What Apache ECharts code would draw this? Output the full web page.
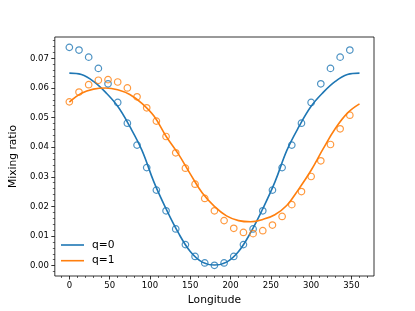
<!DOCTYPE html>
<html>
<head>
<meta charset="utf-8">
<script src="https://cdn.jsdelivr.net/npm/echarts@6/dist/echarts.min.js"></script>
<style>
html,body{margin:0;padding:0;background:#fff;}
#chart{width:415px;height:311px;}
</style>
</head>
<body>
<div id="chart"></div>
<script>
// Observed points (longitude, mixing ratio)
const lonPts = [0,12,24,36,48,60,72,84,96,108,120,132,144,156,168,180,192,204,216,228,240,252,264,276,288,300,312,324,336,348];
const ptsQ0 = [0.0737,0.0728,0.0704,0.0666,0.0614,0.0551,0.0481,0.0407,0.0331,0.0255,0.0185,0.0124,0.0071,0.0031,0.0009,0.0001,0.0009,0.0031,0.0071,0.0124,0.0185,0.0255,0.0331,0.0407,0.0481,0.0551,0.0614,0.0666,0.0704,0.0728];
const ptsQ1 = [0.0553,0.0586,0.0611,0.0626,0.0628,0.0620,0.0600,0.0570,0.0533,0.0488,0.0436,0.0381,0.0329,0.0275,0.0227,0.0185,0.0152,0.0126,0.0112,0.0108,0.0118,0.0137,0.0166,0.0206,0.0250,0.0301,0.0354,0.0409,0.0462,0.0508];
// Model curves
const lonLine = [0,15,30,45,60,75,90,105,120,135,150,165,180,195,210,225,240,255,270,285,300,315,330,345,360];
const lineQ0 = [0.0650,0.0645,0.0622,0.0585,0.0538,0.0470,0.0390,0.0282,0.0192,0.0112,0.0048,0.0012,0.0002,0.0012,0.0048,0.0112,0.0192,0.0282,0.0390,0.0470,0.0538,0.0585,0.0622,0.0645,0.0650];
const lineQ1 = [0.0552,0.0582,0.0596,0.0600,0.0594,0.0578,0.0548,0.0505,0.0437,0.0378,0.0310,0.0245,0.0200,0.0168,0.0152,0.0148,0.0156,0.0172,0.0204,0.0260,0.0322,0.0395,0.0463,0.0515,0.0546];
// Ticks
const xTicks = [0,50,100,150,200,250,300,350];
const xMinor = [-10,10,20,30,40,60,70,80,90,110,120,130,140,160,170,180,190,210,220,230,240,260,270,280,290,310,320,330,340,360,370];
const yTicks = [0,0.01,0.02,0.03,0.04,0.05,0.06,0.07];
const yMinor = [-0.002,0.002,0.004,0.006,0.008,0.012,0.014,0.016,0.018,0.022,0.024,0.026,0.028,0.032,0.034,0.036,0.038,0.042,0.044,0.046,0.048,0.052,0.054,0.056,0.058,0.062,0.064,0.066,0.068,0.072,0.074,0.076];
const names = ['q=0','q=1'];
const colors = ['#1f77b4','#ff7f0e'];

const FONT = 'DejaVu Sans';
const XMIN = -18, XMAX = 378, YMIN = -0.0035, YMAX = 0.0772;

function zip(a,b){return a.map((v,i)=>[v,b[i]]);}

const chart = echarts.init(document.getElementById('chart'), null, {renderer:'canvas'});
const baseX = {type:'value', position:'bottom', min:XMIN, max:XMAX, splitLine:{show:false}, axisLine:{show:false, onZero:false}};
const baseY = {type:'value', position:'left', min:YMIN, max:YMAX, splitLine:{show:false}, axisLine:{show:false, onZero:false}};
chart.setOption({
  animation:false,
  backgroundColor:'#fff',
  grid:{left:52, right:41, top:37, bottom:35, show:true, borderColor:'#000', borderWidth:0.8, backgroundColor:'transparent'},
  legend:{
    orient:'vertical', left:61, top:239, data:names, icon:'rect', itemWidth:23, itemHeight:1.6,
    itemGap:3.7, padding:0,
    textStyle:{fontFamily:FONT, fontSize:10.7, color:'#000', lineHeight:12, padding:[0,0,0,3]}
  },
  xAxis:[
    Object.assign({}, baseX, {
      name:'Longitude', nameLocation:'middle', nameGap:19,
      nameTextStyle:{fontFamily:FONT, fontSize:10.7, color:'#000'},
      axisTick:{show:true, inside:false, length:3.5, lineStyle:{color:'#000', width:0.8}, customValues:xTicks},
      axisLabel:{show:true, margin:5, fontFamily:FONT, fontSize:8.5, color:'#000', customValues:xTicks, formatter:v=>String(v)}
    }),
    Object.assign({}, baseX, {
      axisTick:{show:true, length:2, lineStyle:{color:'#000', width:0.6}, customValues:xMinor},
      axisLabel:{show:false}
    })
  ],
  yAxis:[
    Object.assign({}, baseY, {
      name:'Mixing ratio', nameLocation:'middle', nameGap:35, nameRotate:90,
      nameTextStyle:{fontFamily:FONT, fontSize:10.7, color:'#000'},
      axisTick:{show:true, length:3.5, lineStyle:{color:'#000', width:0.8}, customValues:yTicks},
      axisLabel:{show:true, margin:6, fontFamily:FONT, fontSize:8.5, color:'#000', customValues:yTicks, formatter:v=>v.toFixed(2)}
    }),
    Object.assign({}, baseY, {
      axisTick:{show:true, length:2, lineStyle:{color:'#000', width:0.6}, customValues:yMinor},
      axisLabel:{show:false}
    })
  ],
  series:[
    {name:names[0], type:'line', data:zip(lonLine,lineQ0), smooth:0.4, symbol:'none', color:colors[0], lineStyle:{width:1.6, color:colors[0]}, z:3},
    {name:names[1], type:'line', data:zip(lonLine,lineQ1), smooth:0.4, symbol:'none', color:colors[1], lineStyle:{width:1.6, color:colors[1]}, z:3},
    {name:'obs q=0', type:'scatter', data:zip(lonPts,ptsQ0), symbol:'circle', symbolSize:6.5, itemStyle:{color:'transparent', borderColor:colors[0], borderWidth:1.2}, z:4},
    {name:'obs q=1', type:'scatter', data:zip(lonPts,ptsQ1), symbol:'circle', symbolSize:6.5, itemStyle:{color:'transparent', borderColor:colors[1], borderWidth:1.2}, z:4}
  ]
});
</script>
</body>
</html>
